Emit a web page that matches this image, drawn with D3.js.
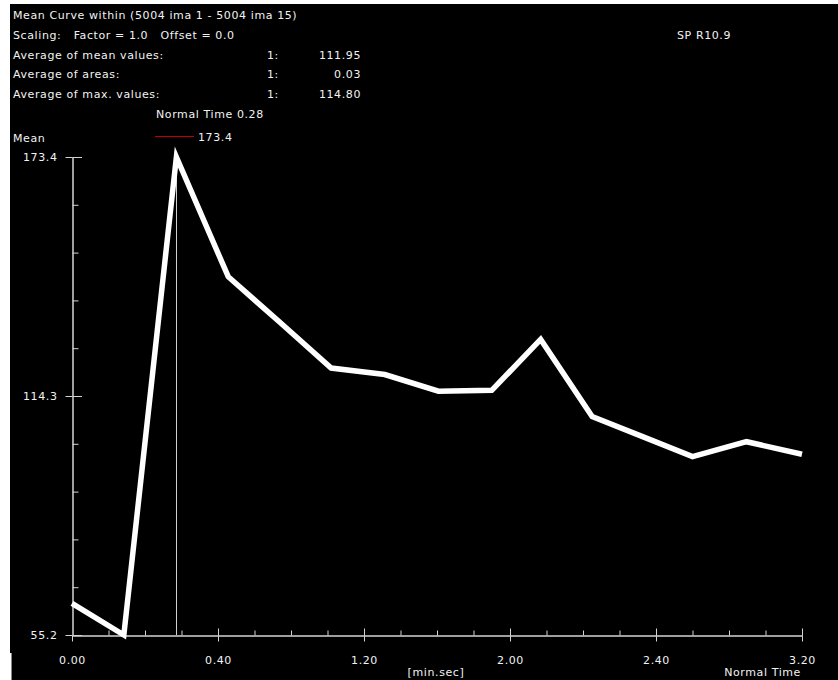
<!DOCTYPE html>
<html>
<head>
<meta charset="utf-8">
<script src="https://cdn.jsdelivr.net/npm/d3@7"></script>
<style>
  html, body { margin: 0; padding: 0; background: #ffffff; }
  svg { display: block; }
  text { font-family: "DejaVu Sans", "Liberation Sans", sans-serif; font-size: 11px; fill: #f2f2f2; letter-spacing: 0.6px; }
</style>
</head>
<body>
<svg id="chart" width="838" height="680"></svg>
<script>
// Frame times in seconds (image 1 .. image 15)
const frameTimes = [0, 14.2, 28.6, 42.8, 57.1, 71.0, 85.7, 100.4, 115.0, 128.4, 142.5, 156.5, 170.0, 184.8, 200.0];
// Mean value within the region for each frame
const meanValues = [63.0, 55.2, 173.4, 143.8, 132.4, 121.2, 119.6, 115.5, 115.7, 128.3, 109.2, 104.2, 99.3, 103.0, 99.9];

// Axis ticks
const xMajorTicks = [0, 40, 80, 120, 160, 200];
const xTickLabels = ["0.00", "0.40", "1.20", "2.00", "2.40", "3.20"];
const xMinorTicks = [10, 20, 30, 50, 60, 70, 90, 100, 110, 130, 140, 150, 170, 180, 190];
const yMajorTicks = [55.2, 114.3, 173.4];
const yTickLabels = ["55.2", "114.3", "173.4"];
const yMinorTicks = [67.02, 78.84, 90.66, 102.48, 126.12, 137.94, 149.76, 161.58];

// Header lines
const titleLine = "Mean Curve within (5004 ima 1 - 5004 ima 15)";
const scalingLine = "Scaling:   Factor = 1.0   Offset = 0.0";
const statLabels = ["Average of mean values:", "Average of areas:", "Average of max. values:"];
const statIndex = ["1:", "1:", "1:"];
const statValues = ["111.95", "0.03", "114.80"];
const normalTime = 28.6;
const normalTimeLabel = "Normal Time 0.28";
const legendValue = "173.4";

const svg = d3.select("#chart");

// Dark plotting window
svg.append("rect").attr("x", 10).attr("y", 4).attr("width", 828).attr("height", 676).attr("fill", "#000");
svg.append("rect").attr("x", 0).attr("y", 653).attr("width", 11).attr("height", 27).attr("fill", "#fff");
svg.append("line").attr("x1", 11.5).attr("x2", 11.5).attr("y1", 653).attr("y2", 680).attr("stroke", "#888");

const x = d3.scaleLinear().domain([0, 200]).range([72, 802]);
const y = d3.scaleLinear().domain([55.2, 173.4]).range([635, 157]);

// Header text block
svg.append("text").attr("x", 13).attr("y", 19).text(titleLine).attr("xml:space", "preserve");
svg.append("text").attr("x", 13).attr("y", 38.5).text(scalingLine).attr("xml:space", "preserve");
statLabels.forEach((s, i) => {
  const by = 59 + i * 19.3;
  svg.append("text").attr("x", 13).attr("y", by).text(s);
  svg.append("text").attr("x", 267).attr("y", by).text(statIndex[i]);
  svg.append("text").attr("x", 361).attr("y", by).attr("text-anchor", "end").text(statValues[i]);
});
svg.append("text").attr("x", 156).attr("y", 117.5).text(normalTimeLabel);
svg.append("text").attr("x", 677).attr("y", 39).text("SP R10.9");
svg.append("text").attr("x", 13).attr("y", 141.5).text("Mean");

// Legend entry
svg.append("line").attr("x1", 155).attr("x2", 194).attr("y1", 136.5).attr("y2", 136.5)
  .attr("stroke", "#c00000").attr("stroke-width", 1.2);
svg.append("text").attr("x", 198).attr("y", 140.5).text(legendValue);

const axisColor = "#d4d4d4";

// Y axis: major ticks with labels, minor ticks to the right
const yAxis = svg.append("g").attr("transform", "translate(72.5,0)")
  .call(d3.axisLeft(y).tickValues(yMajorTicks).tickSizeInner(7).tickSizeOuter(0).tickPadding(8)
    .tickFormat((d, i) => yTickLabels[i]));
yAxis.selectAll(".tick").append("line").attr("x1", 0).attr("x2", 9.5).attr("stroke", axisColor);
svg.append("g").attr("transform", "translate(72.5,0)")
  .call(d3.axisRight(y).tickValues(yMinorTicks).tickSizeInner(6).tickSizeOuter(0).tickFormat(""));

// X axis: major ticks crossing the line, minor ticks above
const xAxis = svg.append("g").attr("transform", "translate(0,635.5)")
  .call(d3.axisBottom(x).tickValues(xMajorTicks).tickSizeInner(6).tickSizeOuter(0).tickPadding(15)
    .tickFormat((d, i) => xTickLabels[i]));
xAxis.selectAll(".tick").filter(d => d > 0).append("line").attr("y1", 0).attr("y2", -7).attr("stroke", axisColor);
svg.append("g").attr("transform", "translate(0,635.5)")
  .call(d3.axisTop(x).tickValues(xMinorTicks).tickSizeInner(5).tickSizeOuter(0).tickFormat(""));

svg.selectAll(".domain, .tick line").attr("stroke", axisColor);
svg.selectAll(".tick text").attr("fill", "#f2f2f2")
  .style("font-family", "DejaVu Sans, sans-serif").style("font-size", "11px");

// Axis captions
svg.append("text").attr("x", 436).attr("y", 676).attr("text-anchor", "middle").text("[min.sec]");
svg.append("text").attr("x", 801).attr("y", 676).attr("text-anchor", "end").text("Normal Time");

// Marker for the normal time
svg.append("line")
  .attr("x1", Math.round(x(normalTime)) + 0.5).attr("x2", Math.round(x(normalTime)) + 0.5)
  .attr("y1", y(173.4)).attr("y2", y(55.2))
  .attr("stroke", "#cfcfcf").attr("stroke-width", 1);

// Mean curve
const points = frameTimes.map((t, i) => [t, meanValues[i]]);
const line = d3.line().x(d => x(d[0])).y(d => y(d[1]));
svg.append("path").datum(points).attr("d", line)
  .attr("fill", "none").attr("stroke", "#c00000").attr("stroke-width", 1);
svg.append("path").datum(points).attr("d", line)
  .attr("fill", "none").attr("stroke", "#ffffff").attr("stroke-width", 5.5);
</script>
</body>
</html>
